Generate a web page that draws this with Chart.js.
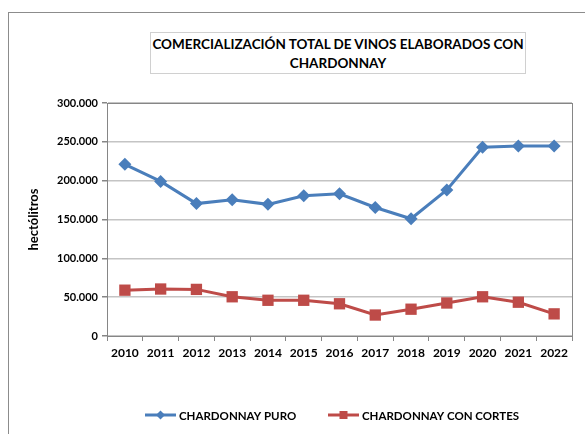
<!DOCTYPE html>
<html lang="es">
<head>
  <meta charset="UTF-8">
  <title>Comercialización total de vinos elaborados con Chardonnay</title>
  <script src="https://cdn.jsdelivr.net/npm/chart.js"></script>
  <style>
    body { margin: 0; background: #fff; font-family: Lato, "Open Sans", sans-serif; }
    .wrap { position: relative; width: 585px; height: 434px; overflow: hidden; }
    .frame { position: absolute; left: 8px; top: 12px; width: 620px; height: 460px; border: 1px solid #8c8c8c; }
    .title { position: absolute; left: 150px; top: 32px; width: 376px; height: 42px; border: 1px solid #d0d0d0;
             text-align: center; font-weight: bold; font-size: 13.5px; line-height: 19px; color: #000; padding-top: 2px; box-sizing: border-box; }
    canvas { position: absolute; left: 0; top: 0; }
  </style>
</head>
<body>
  <div class="wrap">
    <div class="frame"></div>
    <div class="title">COMERCIALIZACIÓN TOTAL DE VINOS ELABORADOS CON<br>CHARDONNAY</div>
    <canvas id="chart" width="585" height="434"></canvas>
  </div>

  <script>
    const years = ['2010', '2011', '2012', '2013', '2014', '2015', '2016', '2017', '2018', '2019', '2020', '2021', '2022'];
    const puro = [221000, 199000, 170500, 175500, 169500, 180500, 183000, 165500, 151000, 188000, 243000, 244500, 244500];
    const conCortes = [59000, 60500, 60000, 50500, 46000, 46000, 41500, 27000, 34500, 42500, 50500, 43500, 28500];
    const yTicks = { min: 0, max: 300000, step: 50000 };

    const blue = '#4a7ebb';
    const red = '#be4b48';
    const font = 'Lato, "Open Sans", sans-serif';

    // plot frame (top + right) like the excel chart
    function drawFrame(chart) {
      const a = chart.chartArea, ctx = chart.ctx;
      ctx.save();
      ctx.strokeStyle = '#868686';
      ctx.lineWidth = 1;
      ctx.strokeRect(Math.round(a.left) + 0.5, Math.round(a.top) + 0.5, Math.round(a.right - a.left), Math.round(a.bottom - a.top));
      ctx.restore();
    }
    const frame = { id: 'frame', beforeDatasetsDraw: drawFrame };

    // legend: line with the marker in the middle
    const lineLegend = {
      id: 'lineLegend',
      afterDraw(chart) {
        const ctx = chart.ctx;
        const y = 415;
        const starts = [145, 328];
        ctx.save();
        ctx.font = 'bold 11.5px ' + font;
        ctx.textBaseline = 'middle';
        chart.data.datasets.forEach((ds, i) => {
          const x0 = starts[i], x1 = x0 + 31, cx = (x0 + x1) / 2;
          ctx.strokeStyle = ds.borderColor;
          ctx.lineWidth = 3;
          ctx.beginPath(); ctx.moveTo(x0, y); ctx.lineTo(x1, y); ctx.stroke();
          ctx.fillStyle = ds.backgroundColor;
          ctx.beginPath();
          if (ds.pointStyle === 'rect') {
            ctx.rect(cx - 4, y - 4, 8, 8);
          } else {
            ctx.moveTo(cx, y - 4.5); ctx.lineTo(cx + 4.5, y); ctx.lineTo(cx, y + 4.5); ctx.lineTo(cx - 4.5, y); ctx.closePath();
          }
          ctx.fill();
          ctx.fillStyle = '#000';
          ctx.fillText(ds.label, x1 + 3, y + 1);
        });
        ctx.restore();
      }
    };

    new Chart(document.getElementById('chart'), {
      type: 'line',
      data: {
        labels: years,
        datasets: [{
          label: 'CHARDONNAY PURO',
          data: puro,
          borderColor: blue,
          backgroundColor: blue,
          borderWidth: 3,
          pointStyle: 'rectRot',
          pointRadius: 6.5,
          pointBorderWidth: 0,
          tension: 0
        }, {
          label: 'CHARDONNAY CON CORTES',
          data: conCortes,
          borderColor: red,
          backgroundColor: red,
          borderWidth: 3,
          pointStyle: 'rect',
          pointRadius: 8,
          pointBorderWidth: 0,
          tension: 0
        }]
      },
      options: {
        responsive: false,
        animation: false,
        layout: { padding: { left: 0, right: 13, top: 103, bottom: 68 } },
        plugins: { legend: { display: false }, tooltip: { enabled: false } },
        scales: {
          x: {
            offset: true,
            grid: { offset: true, drawOnChartArea: false, drawTicks: true, tickLength: 5, tickColor: '#868686' },
            border: { color: '#868686', width: 1 },
            ticks: { color: '#000', font: { family: font, size: 12, weight: 'bold' }, padding: 5, maxRotation: 0, autoSkip: false },
            afterFit(scale) { scale.height = 30; }
          },
          y: {
            min: yTicks.min,
            max: yTicks.max,
            ticks: {
              stepSize: yTicks.step,
              color: '#000',
              padding: 4,
              font: { family: font, size: 11, weight: 'bold' },
              callback: v => v.toLocaleString('de-DE')
            },
            grid: { color: '#c4c4c4', lineWidth: 1.5, tickColor: '#868686', tickLength: 5 },
            border: { color: '#868686', width: 1 },
            title: { display: true, text: 'hectólitros', color: '#000', font: { family: font, size: 13, weight: 'bold' }, padding: { top: 26, bottom: 0 } },
            afterFit(scale) { scale.width = 107; }
          }
        }
      },
      plugins: [frame, lineLegend]
    });
  </script>
</body>
</html>
